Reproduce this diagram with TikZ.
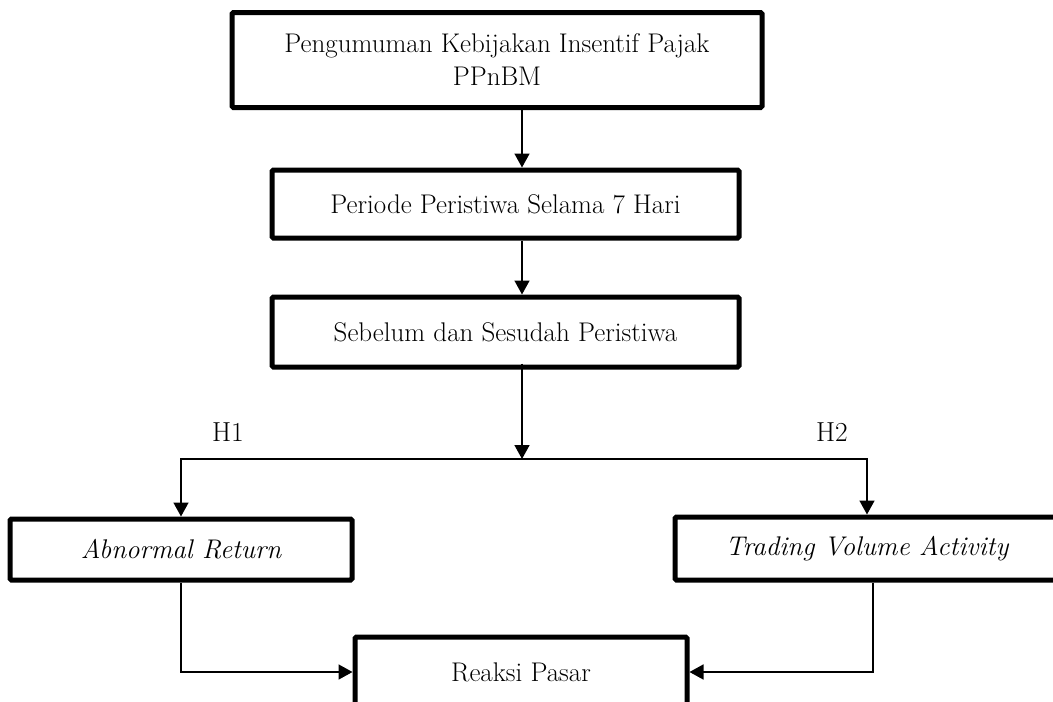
\documentclass[tikz,border=0pt]{standalone}
\usetikzlibrary{arrows.meta,calc}
\begin{document}
\begin{tikzpicture}[x=1pt,y=-1pt,
  box/.style={draw=black,line width=5pt,rounded corners=1.5pt,inner sep=0pt,align=center,
    font=\fontsize{27}{33}\selectfont},
  conn/.style={line width=1.6pt,-{Triangle[width=15pt,length=14pt]}},
  lab/.style={font=\fontsize{27.5}{30}\selectfont,inner sep=0pt}]
\useasboundingbox (0,0) rectangle (1053,702);
\node[box,minimum width=530,minimum height=95] (b1) at (497,60) {Pengumuman Kebijakan Insentif Pajak\\PPnBM};
\node[box,minimum width=467,minimum height=68] (b2) at (505.5,204) {Periode Peristiwa Selama 7 Hari};
\node[box,minimum width=467,minimum height=70] (b3) at (505.5,332) {Sebelum dan Sesudah Peristiwa};
\node[box,minimum width=342,minimum height=61] (ar) at (181,549.5) {\itshape Abnormal Return};
\node[box,minimum width=384,minimum height=63] (tva) at (867,548.5) {\itshape Trading Volume Activity};
\node[box,minimum width=332,minimum height=70] (rp) at (521,672) {Reaksi Pasar};
\node[lab] (h1) at (228,432) {H1};
\node[lab] (h2) at (832,432) {H2};
\coordinate (c) at (522,0);
\coordinate (j) at (522,459);
\coordinate (tr) at (873,0);
\draw[conn] (b1.south -| c) -- (b2.north -| c);
\draw[conn] (b2.south -| c) -- (b3.north -| c);
\draw[conn] ([yshift=6]b3.south -| c) -- (j);
\draw[conn] (j) -| (ar.north);
\draw[conn] (j) -| (tva.north);
\draw[conn] (ar.south) |- (rp.west);
\draw[conn] (tva.south -| tr) |- (rp.east);
\end{tikzpicture}
\end{document}
